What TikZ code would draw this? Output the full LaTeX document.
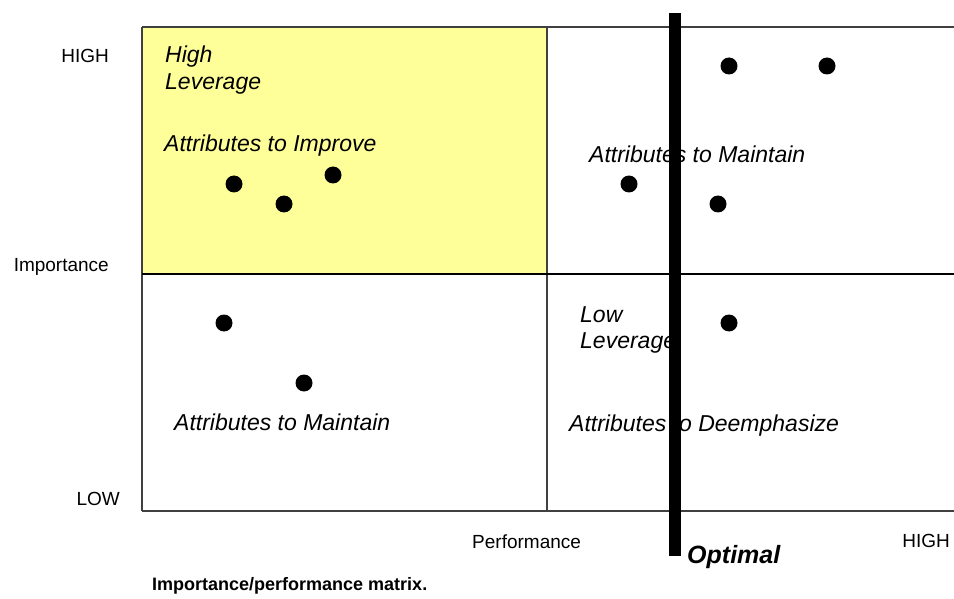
\documentclass[tikz,border=0pt]{standalone}
\usepackage{fontspec}
\setmainfont{Liberation Sans}
\definecolor{quadyellow}{RGB}{255,255,153}
\definecolor{boxline}{RGB}{64,64,64}
\begin{document}
\begin{tikzpicture}[x=1pt,y=-1pt,
  axislbl/.style={inner sep=0pt,font=\fontsize{19}{22}\selectfont},
  quadlbl/.style={inner sep=0pt,anchor=base west,font=\fontsize{23}{27}\selectfont\itshape},
  optlbl/.style={inner sep=0pt,anchor=base west,font=\fontsize{25}{29}\selectfont\bfseries\itshape},
  caplbl/.style={inner sep=0pt,anchor=base west,font=\fontsize{18}{21}\selectfont\bfseries},
  dot/.style={circle,fill=black,inner sep=0pt,minimum size=17pt},
  gridline/.style={draw=boxline,line width=1.2pt}
]
\useasboundingbox (0,0) rectangle (954,599);
\fill[white] (0,0) rectangle (954,599);
% high leverage quadrant
\fill[quadyellow] (142,27) rectangle (547,274);
% grid
\draw[gridline] (142,27) -- (954,27);
\draw[gridline] (142,511) -- (954,511);
\draw[gridline] (142,27) -- (142,511);
\draw[gridline] (547,27) -- (547,511);
\draw[black,line width=2pt] (142,274) -- (954,274);
% axis labels
\node[axislbl,anchor=base east] (hightop) at (109,63) {HIGH};
\node[axislbl,anchor=base east] (imp) at (109,271) {Importance};
\node[axislbl,anchor=base east] (low) at (120,505) {LOW};
\node[axislbl,anchor=base west] (perf) at (472,548) {Performance};
\node[axislbl,anchor=base east] (highright) at (950,547) {HIGH};
% quadrant labels
\node[quadlbl] (hl1) at (165,63) {High};
\node[quadlbl] (hl2) at (165,90) {Leverage};
\node[quadlbl] (improve) at (164,152) {Attributes to Improve};
\node[quadlbl] (maintTR) at (589,163) {Attributes to Maintain};
\node[quadlbl] (maintBL) at (174,430) {Attributes to Maintain};
\node[quadlbl] (ll1) at (580,322) {Low};
\node[quadlbl] (ll2) at (580,348) {Leverage};
\node[quadlbl] (deemph) at (569,431) {Attributes to Deemphasize};
% dots
\node[dot] (d1) at (234,184) {};
\node[dot] (d2) at (284,204) {};
\node[dot] (d3) at (333,175) {};
\node[dot] (d4) at (729,66) {};
\node[dot] (d5) at (827,66) {};
\node[dot] (d6) at (629,184) {};
\node[dot] (d7) at (718,204) {};
\node[dot] (d8) at (224,323) {};
\node[dot] (d9) at (304,383) {};
\node[dot] (d10) at (729,323) {};
% optimal bar
\coordinate (bartop) at (675,13);
\coordinate (barbot) at (675,556);
\draw[black,line width=12pt] (bartop) -- (barbot);
\node[optlbl] (optimal) at (687,563) {Optimal};
% caption
\node[caplbl] (caption) at (152,590) {Importance/performance matrix.};
\end{tikzpicture}
\end{document}
